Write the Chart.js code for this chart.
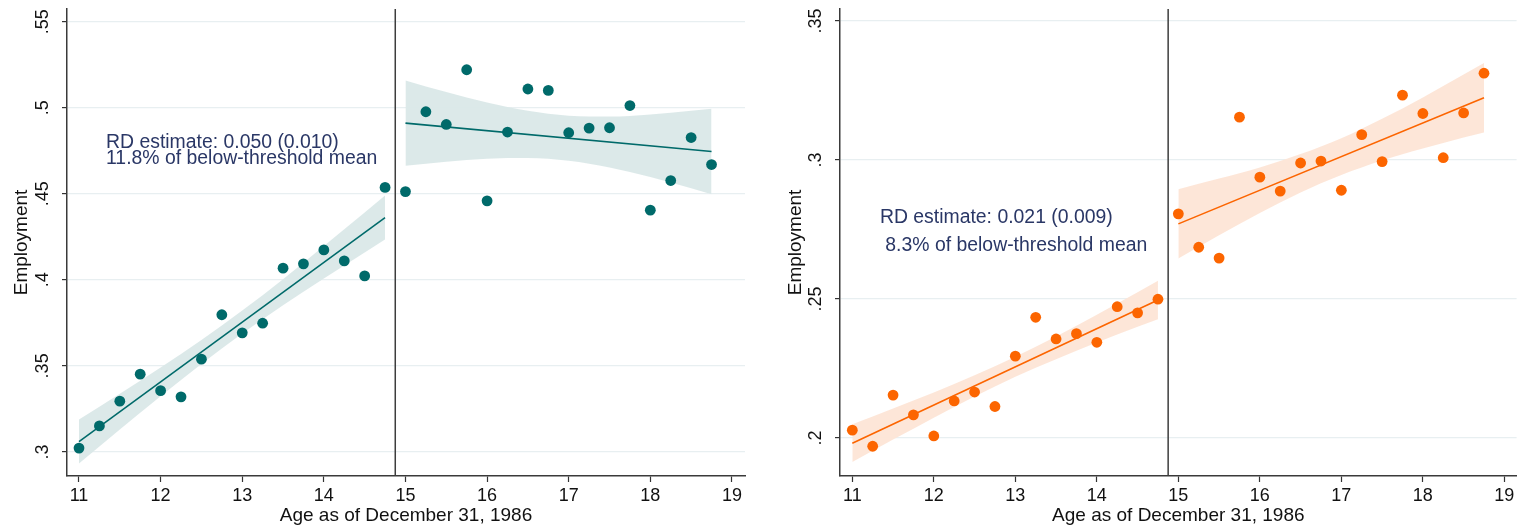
<!DOCTYPE html>
<html>
<head>
<meta charset="utf-8">
<script src="https://cdn.jsdelivr.net/npm/chart.js@4.4.1/dist/chart.umd.min.js"></script>
<style>
  body { margin: 0; background: #fff; }
  .panel { position: absolute; top: 0; }
</style>
</head>
<body>
<canvas id="empYoung" class="panel" width="761" height="531" style="left:0"></canvas>
<canvas id="empOld" class="panel" width="761" height="531" style="left:761px"></canvas>
<script>
// quarter-year age bins
const ages = [11, 11.25, 11.5, 11.75, 12, 12.25, 12.5, 12.75, 13, 13.25, 13.5, 13.75, 14, 14.25, 14.5, 14.75,
              15, 15.25, 15.5, 15.75, 16, 16.25, 16.5, 16.75, 17, 17.25, 17.5, 17.75, 18, 18.25, 18.5, 18.75];

// binned employment means
const empLeft = [.3022, .3151, .3295, .3452, .3356, .3320, .3539, .3797, .3692, .3748, .4068, .4093, .4174, .4110, .4023, .4537,
                 .4513, .4977, .4903, .5221, .4459, .4859, .5109, .5101, .4855, .4882, .4884, .5013, .4405, .4577, .4827, .4670];
const empRight = [.2028, .1970, .2154, .2083, .2007, .2133, .2165, .2113, .2294, .2434, .2356, .2375, .2344, .2472, .2450, .2499,
                  .2806, .2686, .2647, .3154, .2938, .2888, .2989, .2996, .2891, .3091, .2994, .3233, .3167, .3008, .3169, .3312];

// linear fits either side of the cutoff
const fitXBelow = [11, 14.75];
const fitXAbove = [15, 18.75];
const fitLeftBelow = [.3060, .4362];
const fitLeftAbove = [.4911, .4746];
const fitRightBelow = [.1981, .2496];
const fitRightAbove = [.2770, .3224];

// 95% confidence bands
const ciXBelow = [11, 11.5, 12, 12.5, 13, 13.5, 14, 14.5, 14.75];
const ciXAbove = [15, 15.5, 16, 16.5, 17, 17.5, 18, 18.5, 18.75];
const ciLeftLoBelow = [.2932, .3130, .3323, .3511, .3688, .3852, .4008, .4159, .4234];
const ciLeftHiBelow = [.3188, .3338, .3491, .3651, .3822, .4004, .4196, .4391, .4490];
const ciLeftLoAbove = [.4663, .4687, .4704, .4708, .4692, .4653, .4597, .4532, .4498];
const ciLeftHiAbove = [.5159, .5091, .5030, .4982, .4954, .4949, .4961, .4982, .4994];
const ciRightLoBelow = [.1913, .1994, .2073, .2149, .2220, .2283, .2343, .2400, .2427];
const ciRightHiBelow = [.2049, .2106, .2163, .2225, .2292, .2365, .2443, .2524, .2565];
const ciRightLoAbove = [.2645, .2729, .2809, .2883, .2946, .2998, .3041, .3081, .3099];
const ciRightHiAbove = [.2895, .2933, .2973, .3021, .3078, .3148, .3225, .3307, .3349];

const cutoff = 14.875;
const xTicks = [11, 12, 13, 14, 15, 16, 17, 18, 19];
const yTicksLeft = [.3, .35, .4, .45, .5, .55];
const yTicksRight = [.2, .25, .3, .35];

Chart.defaults.font.family = "'Liberation Sans', Arial, sans-serif";
Chart.defaults.color = '#111';

const pts = (xs, ys) => xs.map((x, i) => ({ x: x, y: ys[i] }));
const fmt = v => String(+Number(v).toFixed(2)).replace(/^0\./, '.');

// RD estimate text, anchored in data units
const notePlugin = {
  id: 'rdNote',
  afterDatasetsDraw(chart, args, opts) {
    const { ctx, scales: { x, y } } = chart;
    ctx.save();
    ctx.font = '19.4px ' + Chart.defaults.font.family;
    ctx.fillStyle = opts.color;
    ctx.textAlign = 'left';
    ctx.textBaseline = 'middle';
    opts.lines.forEach(l => ctx.fillText(l.text, x.getPixelForValue(l.x), y.getPixelForValue(l.y)));
    ctx.restore();
  }
};

function band(lo, hi, xs, fillColor) {
  const common = { pointRadius: 0, borderColor: 'rgba(0,0,0,0)', tension: 0.4, cubicInterpolationMode: 'monotone', order: 3 };
  return [
    Object.assign({ data: pts(xs, lo), fill: false }, common),
    Object.assign({ data: pts(xs, hi), fill: '-1', backgroundColor: fillColor }, common)
  ];
}

function rdChart(id, s) {
  const datasets = [].concat(
    band(s.ciLoBelow, s.ciHiBelow, ciXBelow, s.bandColor),
    band(s.ciLoAbove, s.ciHiAbove, ciXAbove, s.bandColor),
    [
      { data: pts(fitXBelow, s.fitBelow), borderColor: s.color, borderWidth: 1.6, pointRadius: 0, order: 1 },
      { data: pts(fitXAbove, s.fitAbove), borderColor: s.color, borderWidth: 1.6, pointRadius: 0, order: 1 },
      { data: pts(ages, s.values), showLine: false, pointRadius: 5.4, pointBorderWidth: 0,
        pointBackgroundColor: s.color, order: 0 },
      { data: [{ x: cutoff, y: s.yMin }, { x: cutoff, y: s.yMax }], borderColor: '#3d3d3d', borderWidth: 1.5,
        pointRadius: 0, order: 2 }
    ]
  );

  return new Chart(document.getElementById(id), {
    type: 'line',
    data: { datasets: datasets },
    plugins: [notePlugin],
    options: {
      responsive: false,
      animation: false,
      events: [],
      layout: { padding: { top: 9, right: s.padRight, left: 0, bottom: 0 } },
      plugins: {
        legend: { display: false },
        tooltip: { enabled: false },
        rdNote: { color: '#2a3766', lines: s.note }
      },
      scales: {
        x: {
          type: 'linear', min: s.xMin, max: s.xMax,
          afterBuildTicks: a => { a.ticks = xTicks.map(v => ({ value: v })); },
          afterFit: a => { a.height = 55; a.paddingLeft = 0; a.paddingRight = 0; },
          grid: { drawOnChartArea: false, tickColor: '#333', tickLength: 6, tickWidth: 1.2 },
          border: { color: '#3a3a3a', width: 1.5 },
          ticks: { autoSkip: false, maxRotation: 0, padding: 3, font: { size: 18 }, color: '#111' },
          title: { display: true, text: 'Age as of December 31, 1986', font: { size: 19 }, color: '#111',
                   padding: { top: 0, bottom: 4 } }
        },
        y: {
          type: 'linear', min: s.yMin, max: s.yMax,
          afterBuildTicks: a => { a.ticks = s.yTicks.map(v => ({ value: v })); },
          afterFit: a => { a.width = s.yWidth; a.paddingTop = 0; a.paddingBottom = 0; },
          grid: { color: '#e8eff1', lineWidth: 1.2, tickColor: '#333', tickLength: 5, tickWidth: 1.2 },
          border: { color: '#3a3a3a', width: 1.5 },
          ticks: { autoSkip: false, minRotation: 90, maxRotation: 90, crossAlign: 'center', padding: 6.5,
                   font: { size: 18 }, color: '#111', callback: v => fmt(v) },
          title: { display: true, text: 'Employment', font: { size: 19 }, color: '#111',
                   padding: { top: s.titlePad, bottom: 0 } }
        }
      }
    }
  });
}

rdChart('empYoung', {
  values: empLeft, color: '#006a6a', bandColor: 'rgba(218,232,232,0.95)',
  fitBelow: fitLeftBelow, fitAbove: fitLeftAbove,
  ciLoBelow: ciLeftLoBelow, ciHiBelow: ciLeftHiBelow, ciLoAbove: ciLeftLoAbove, ciHiAbove: ciLeftHiAbove,
  xMin: 10.853, xMax: 19.16, yMin: .286, yMax: .5574, yTicks: yTicksLeft,
  yWidth: 67, padRight: 16, titlePad: 10,
  note: [
    { text: 'RD estimate: 0.050 (0.010)', x: 11.331, y: .4800 },
    { text: '11.8% of below-threshold mean', x: 11.331, y: .4703 }
  ]
});

rdChart('empOld', {
  values: empRight, color: '#fc6500', bandColor: 'rgba(253,229,214,0.95)',
  fitBelow: fitRightBelow, fitAbove: fitRightAbove,
  ciLoBelow: ciRightLoBelow, ciHiBelow: ciRightHiBelow, ciLoAbove: ciRightLoAbove, ciHiAbove: ciRightHiAbove,
  xMin: 10.849, xMax: 19.15, yMin: .1863, yMax: .3543, yTicks: yTicksRight,
  yWidth: 79, padRight: 4, titlePad: 23,
  note: [
    { text: 'RD estimate: 0.021 (0.009)', x: 11.339, y: .2794 },
    { text: ' 8.3% of below-threshold mean', x: 11.339, y: .2692 }
  ]
});
</script>
</body>
</html>
